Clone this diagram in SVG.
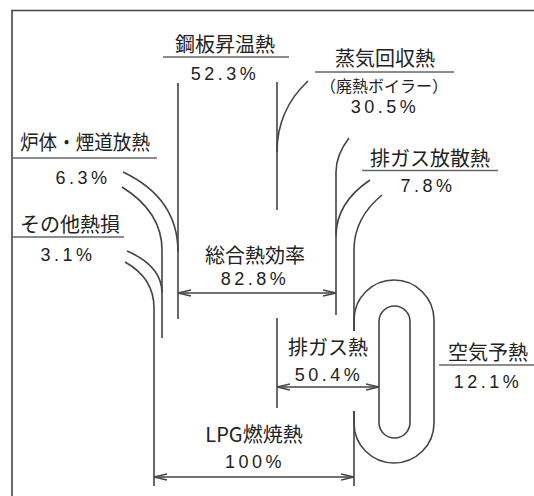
<svg xmlns="http://www.w3.org/2000/svg" width="534" height="496" viewBox="0 0 534 496">
<style>
.ln{fill:none;stroke:#444;stroke-width:1.6}
.ul{fill:none;stroke:#666;stroke-width:1.6}
.jp{font-family:"Noto Sans CJK JP","Noto Sans",sans-serif;font-size:20px;font-weight:400;fill:#222;text-anchor:middle}
.sm{font-size:16px}
.num{font-family:"Liberation Sans",Arial,sans-serif;font-size:18px;fill:#222;text-anchor:middle;letter-spacing:3.5px}
</style>
<defs>
<marker id="ah" viewBox="0 0 13 8" refX="13" refY="4" markerWidth="13" markerHeight="8" markerUnits="userSpaceOnUse" orient="auto-start-reverse">
<path d="M0,1 L13,4 L0,7" fill="none" stroke="#444" stroke-width="1.4"/>
</marker>
</defs>
<rect width="534" height="496" fill="#fff"/>
<g id="frame"><path class="ln" d="M12,496 V10.5 H534" stroke="#666"/></g>
<g id="connectors">
<path class="ln" d="M178,83 V319"/>
<path class="ln" d="M277,82 V210"/>
<path class="ln" d="M308,81 Q277,110 277,152"/>
<path class="ln" d="M349,138 Q336,155 336,172 V315"/>
<path class="ln" d="M370,180 Q336,203 336,236"/>
<path class="ln" d="M382,195 Q354,218 354,250 V331"/>
<path class="ln" d="M354,331 V320 A40,40 0 0 1 434,320 V423 A40,40 0 0 1 354,423 V411"/>
<path class="ln" d="M354,411 V486"/>
<rect class="ln" x="379" y="306" width="31" height="132" rx="15.5"/>
<path class="ln" d="M277,318 V408"/>
<path class="ln" d="M123,172 Q178,198 178,252"/>
<path class="ln" d="M122,187 Q162,212 162,250 V338"/>
<path class="ln" d="M127,251 Q162,266 162,293"/>
<path class="ln" d="M125,262 Q154,278 154,308 V486"/>
<path class="ln" d="M178,293 H336" marker-start="url(#ah)" marker-end="url(#ah)"/>
<path class="ln" d="M277,387 H379" marker-start="url(#ah)" marker-end="url(#ah)"/>
<path class="ln" d="M154,477 H354" marker-start="url(#ah)" marker-end="url(#ah)"/>
</g>
<g id="n-kouban">
<text class="jp" x="225" y="52">鋼板昇温熱</text>
<path class="ul" d="M163,57 H289"/>
<text class="num" x="225" y="80">52.3%</text>
</g>
<g id="n-jouki">
<text class="jp" x="385" y="66">蒸気回収熱</text>
<path class="ul" d="M315,72 H454"/>
<text class="jp sm" x="384" y="92">（廃熱ボイラー）</text>
<text class="num" x="385" y="113">30.5%</text>
</g>
<g id="n-haigasu-housan">
<text class="jp" x="430" y="166">排ガス放散熱</text>
<path class="ul" d="M362,170.5 H498"/>
<text class="num" x="428" y="192">7.8%</text>
</g>
<g id="n-rotai">
<text class="jp" x="85" y="150" textLength="130" lengthAdjust="spacingAndGlyphs">炉体・煙道放熱</text>
<path class="ul" d="M12,158 H157"/>
<text class="num" x="83" y="184">6.3%</text>
</g>
<g id="n-sonota">
<text class="jp" x="70" y="232">その他熱損</text>
<path class="ul" d="M12,237 H124"/>
<text class="num" x="68" y="261">3.1%</text>
</g>
<g id="n-sougou">
<text class="jp" x="255" y="263">総合熱効率</text>
<text class="num" x="255" y="285">82.8%</text>
</g>
<g id="n-haigasu">
<text class="jp" x="328" y="355">排ガス熱</text>
<text class="num" x="329" y="381">50.4%</text>
</g>
<g id="n-kuuki">
<text class="jp" x="488" y="360">空気予熱</text>
<path class="ul" d="M439,365 H534"/>
<text class="num" x="488" y="388">12.1%</text>
</g>
<g id="n-lpg">
<text class="jp" x="254" y="442">LPG燃焼熱</text>
<text class="num" x="255" y="468">100%</text>
</g>
</svg>
